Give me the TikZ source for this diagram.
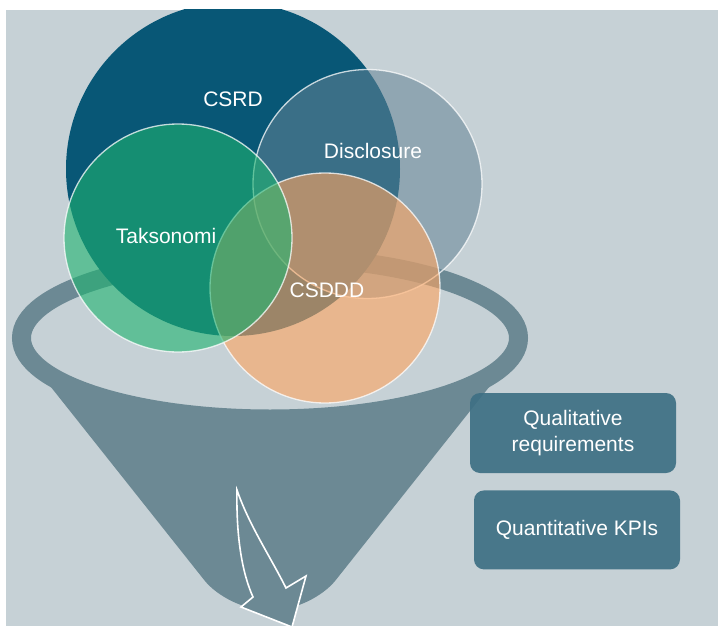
\documentclass[tikz,border=0pt]{standalone}
\usepackage{fontspec}
\setmainfont{Liberation Sans}
\usetikzlibrary{positioning}

\definecolor{bgcol}{RGB}{198,209,214}
\definecolor{csrdcol}{RGB}{8,87,118}
\definecolor{taksocol}{RGB}{30,180,112}
\definecolor{disclcol}{RGB}{100,132,150}
\definecolor{csdddcol}{RGB}{255,165,95}
\definecolor{funnelcol}{RGB}{108,137,148}
\definecolor{boxcol}{RGB}{62,112,132}

\begin{document}
\begin{tikzpicture}[x=1pt, y=-1pt,
    venn/.style={circle, inner sep=0pt, draw=white, draw opacity=0.75, line width=1.3pt},
    lbl/.style={text=white, font=\fontsize{21}{26}\selectfont},
    req/.style={rectangle, rounded corners=10pt, fill=boxcol, fill opacity=0.92, text opacity=1,
        text=white, align=center, minimum width=206pt, minimum height=80pt,
        font=\fontsize{21}{26}\selectfont}]
    \useasboundingbox (0,0) rectangle (718,626);
    \fill[white] (0,0) rectangle (718,626);
    \fill[bgcol] (6,10) rectangle (718,626);
    \begin{scope}
    \clip (6,10) rectangle (718,626);
    % Funnel
    \coordinate (funnel) at (270,338);
    \fill[funnelcol, rounded corners=38pt] (12,338) -- (228,610) -- (312,610) -- (528,338) -- cycle;
    \draw[draw=funnelcol, fill=bgcol, line width=19pt] (funnel) ellipse [x radius=248.5, y radius=81];
    % Arrow inside the funnel
    \coordinate (tip) at (237,490);
    \draw[fill=funnelcol, draw=white, line width=1.6pt] (tip) .. controls (236,540) and (243,575) .. (253,597)
        -- (241,607) -- (292,627) -- (306,576) -- (286,588) .. controls (270,556) and (249,525) .. cycle;
    % Sets
    \node (csrd) [venn, draw=none, fill=csrdcol, minimum size=334pt] at (233,169) {};
    \node (discl) [venn, fill=disclcol, fill opacity=0.55, minimum size=229pt] at (367.5,184) {};
    \node (csddd) [venn, fill=csdddcol, fill opacity=0.6, minimum size=230pt] at (325,288) {};
    \node (takso) [venn, fill=taksocol, fill opacity=0.6, minimum size=228pt] at (178,238) {};
    \end{scope}
    % Labels
    \node (csrdlbl) [lbl] at (233,99) {CSRD};
    \node (discllbl) [lbl] at (373,151) {Disclosure};
    \node (taksolbl) [lbl] at (166,236) {Taksonomi};
    \node (csdddlbl) [lbl] at (327,290) {CSDDD};
    % Requirements
    \node (qual) [req] at (573,433) {Qualitative\\requirements};
    \node (quant) [req, below=17pt of qual, xshift=4pt, minimum height=79pt] {Quantitative KPIs};
\end{tikzpicture}
\end{document}
